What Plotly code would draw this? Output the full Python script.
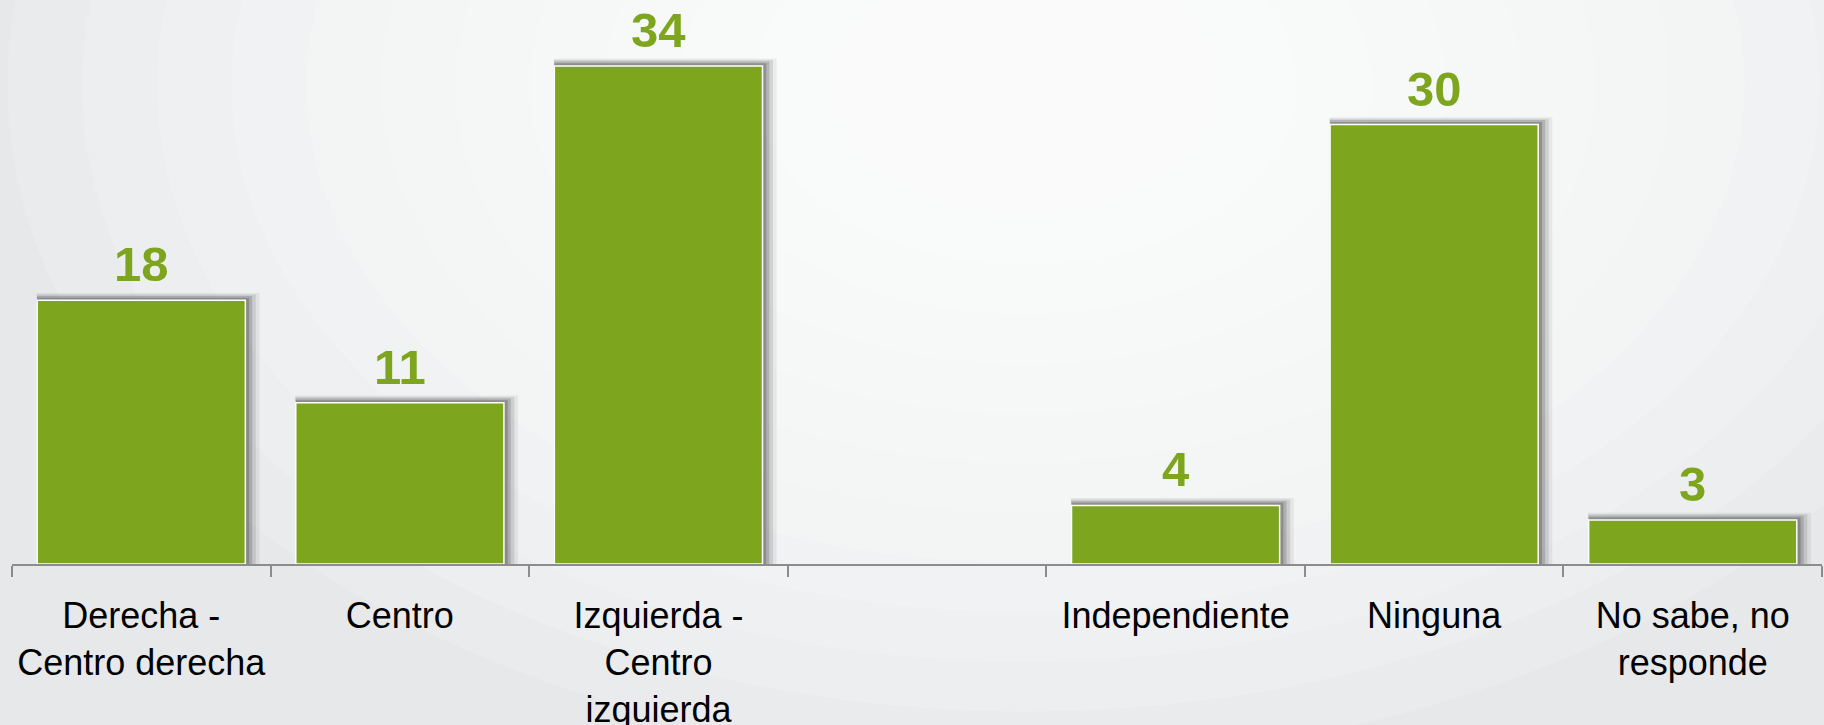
import plotly.graph_objects as go

categories = ["Derecha -<br>Centro derecha", "Centro", "Izquierda -<br>Centro<br>izquierda", " ",
              "Independiente", "Ninguna", "No sabe, no<br>responde"]
values = [18, 11, 34, None, 4, 30, 3]
labels = ["18", "11", "34", "", "4", "30", "3"]

green = "#7DA51E"

fig = go.Figure()

# soft drop shadow behind the bars
for w, off, dy, op in [(0.862, -0.405, 0.5, 0.07), (0.847, -0.404, 0.4, 0.12),
                       (0.832, -0.403, 0.3, 0.18), (0.819, -0.402, 0.18, 0.25)]:
    fig.add_trace(go.Bar(
        x=categories, y=[v + dy if v is not None else None for v in values],
        width=w, offset=off, marker=dict(color=f"rgba(40,40,40,{op})", line=dict(width=0)),
        hoverinfo="skip", showlegend=False,
    ))

fig.add_trace(go.Bar(
    x=categories, y=values, width=0.805, offset=-0.4025,
    marker=dict(color=green, line=dict(color="white", width=1.5)),
    showlegend=False,
))

for c, v, t in zip(categories, values, labels):
    if v is None:
        continue
    fig.add_annotation(x=c, y=v, text=f"<b>{t}</b>", showarrow=False, yanchor="bottom",
                       yshift=7, font=dict(size=49, color=green, family="Liberation Sans, Arial"))

# radial background glow
shapes = []
n = 12
for i in range(n):
    r = 0.75 - i * 0.055
    shapes.append(dict(type="circle", xref="paper", yref="paper", layer="below",
                       x0=0.56 - r * 0.75, x1=0.56 + r * 0.75, y0=0.85 - r * 1.6, y1=0.85 + r * 1.6,
                       fillcolor="white", opacity=0.15, line=dict(width=0)))

fig.update_layout(
    width=1824, height=725,
    margin=dict(l=12, r=2, t=0, b=161, autoexpand=False),
    paper_bgcolor="#e7e8ea", plot_bgcolor="rgba(0,0,0,0)",
    barmode="overlay", shapes=shapes,
    font=dict(family="Liberation Sans, Arial", size=36, color="black"),
)
fig.update_xaxes(showline=True, linecolor="#8c8c8c", linewidth=2, ticks="outside",
                 tickson="boundaries", ticklen=11, tickcolor="#8c8c8c", tickwidth=1.5,
                 showgrid=False, tickfont=dict(size=36), tickangle=0, automargin=False,
                 ticklabelstandoff=19)
fig.update_yaxes(range=[0, 38.5], visible=False, showgrid=False)

fig.write_html("out.html", config={"displayModeBar": False},
               post_script="document.body.style.margin='0';")
